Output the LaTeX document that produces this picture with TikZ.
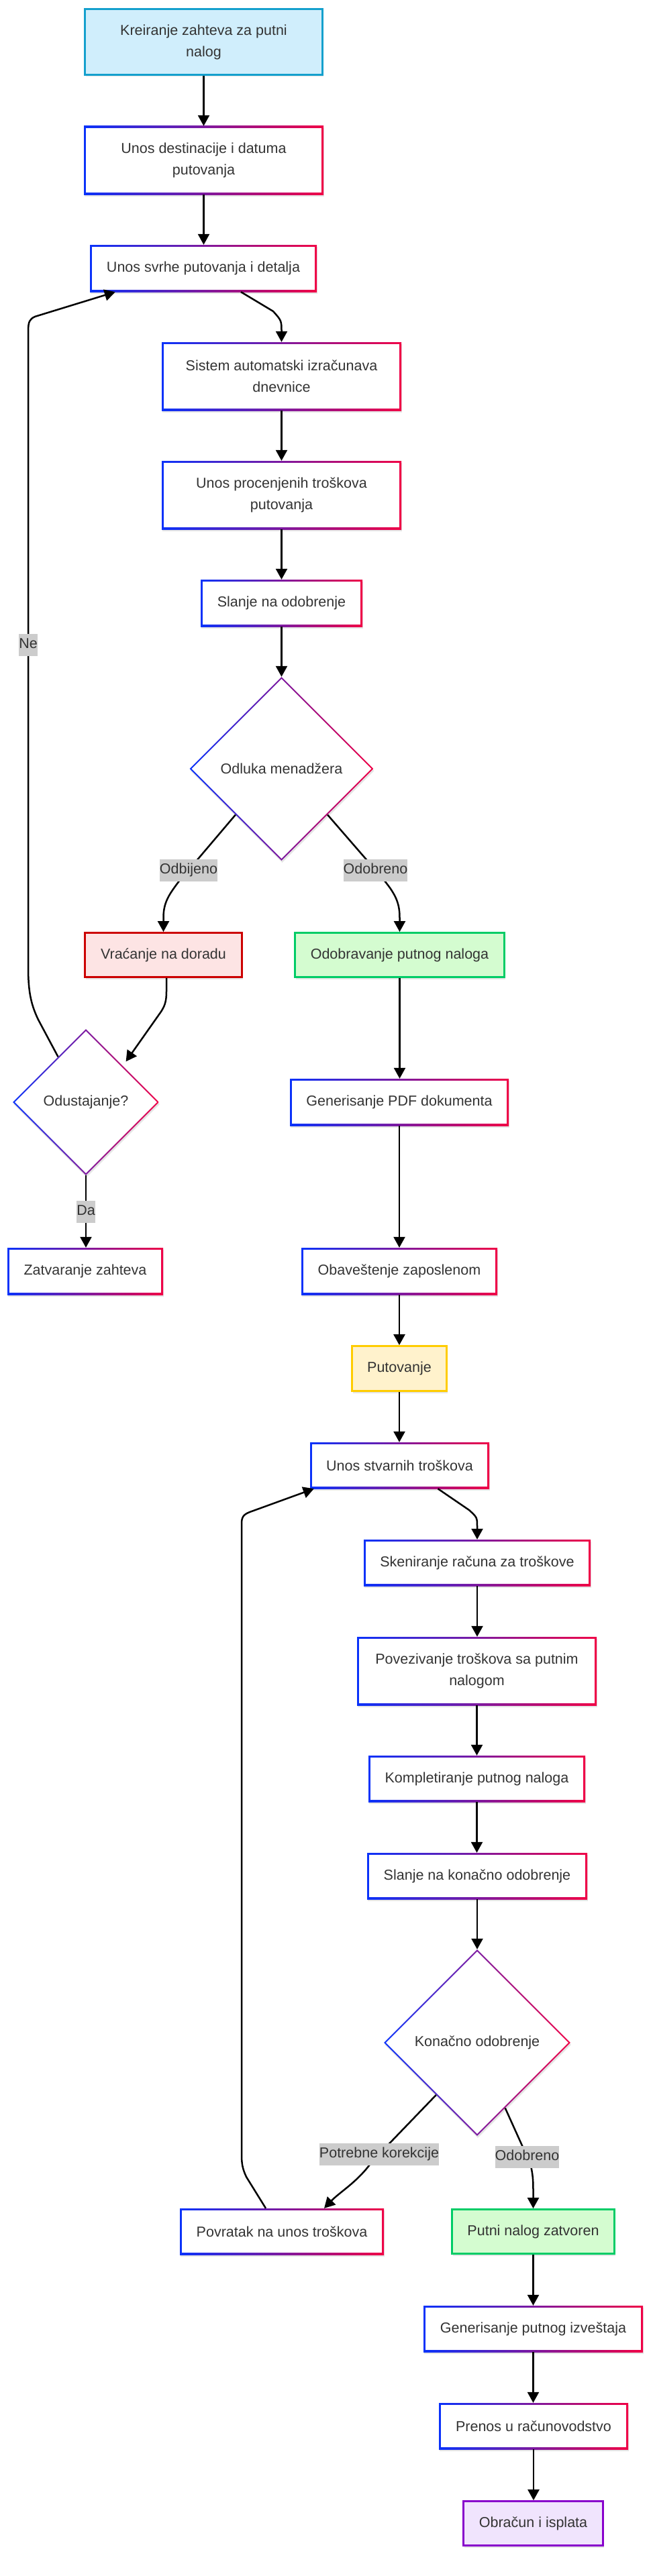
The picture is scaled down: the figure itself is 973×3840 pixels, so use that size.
\documentclass[tikz,border=0pt]{standalone}
\usepackage{fontspec}
\setmainfont{Liberation Sans}
\usetikzlibrary{shapes.geometric,arrows.meta,calc,shadows}
\definecolor{gleft}{RGB}{10,50,250}
\definecolor{gright}{RGB}{240,0,70}
\definecolor{txt}{RGB}{51,51,51}
\definecolor{labgray}{RGB}{204,204,204}
\definecolor{startfill}{RGB}{208,238,252}
\definecolor{startdraw}{RGB}{20,160,205}
\definecolor{redfill}{RGB}{253,228,228}
\definecolor{reddraw}{RGB}{204,0,0}
\definecolor{greenfill}{RGB}{212,252,208}
\definecolor{greendraw}{RGB}{0,204,102}
\definecolor{yelfill}{RGB}{255,242,204}
\definecolor{yeldraw}{RGB}{255,204,0}
\definecolor{purfill}{RGB}{240,228,253}
\definecolor{purdraw}{RGB}{136,0,204}
\newcommand{\mynodefont}{\fontsize{21.5pt}{32pt}\selectfont}
\tikzset{
  basenode/.style={inner sep=0pt, align=center, font=\mynodefont, text=txt,
    general shadow={fill=black, opacity=0.10, shadow xshift=1pt, shadow yshift=-3pt}},
  gbox/.style={basenode, rectangle,
    path picture={
      \shade[left color=gleft, right color=gright] (path picture bounding box.south west) rectangle (path picture bounding box.north east);
      \fill[white] ([shift={(2.8pt,2.8pt)}]path picture bounding box.south west) rectangle ([shift={(-2.8pt,-2.8pt)}]path picture bounding box.north east);
    }},
  gdia/.style={basenode, diamond, aspect=1,
    path picture={
      \shade[left color=gleft, right color=gright] (path picture bounding box.south west) rectangle (path picture bounding box.north east);
      \fill[white] ([yshift=-3pt]path picture bounding box.north) -- ([xshift=-3pt]path picture bounding box.east) -- ([yshift=3pt]path picture bounding box.south) -- ([xshift=3pt]path picture bounding box.west) -- cycle;
    }},
  cbox/.style={basenode, rectangle, line width=2.8pt},
  ed/.style={line width=2.5pt, line join=round, -{Triangle[length=16pt,width=17pt]}},
  lab/.style={fill=labgray, inner xsep=0pt, inner ysep=0pt, minimum height=33pt,
    text height=16pt, text depth=5pt, font=\mynodefont, text=txt},
}
\begin{document}
\begin{tikzpicture}[x=1pt,y=-1pt]
\path[fill=white, use as bounding box] (0,0) rectangle (973,3840);

% nodes
\node[cbox, fill=startfill, draw=startdraw, minimum width=354pt, minimum height=98pt] (A) at (303.5,62.5) {Kreiranje zahteva za putni\\nalog};
\node[gbox, minimum width=357pt, minimum height=102pt] (B) at (303.5,239) {Unos destinacije i datuma\\putovanja};
\node[gbox, minimum width=338pt, minimum height=70pt] (C) at (303,400) {Unos svrhe putovanja i detalja};
\node[gbox, minimum width=357pt, minimum height=102pt] (D) at (419.5,561) {Sistem automatski izračunava\\dnevnice};
\node[gbox, minimum width=357pt, minimum height=102pt] (E) at (419.5,738) {Unos procenjenih troškova\\putovanja};
\node[gbox, minimum width=241pt, minimum height=70pt] (F) at (419.5,899) {Slanje na odobrenje};
\node[gdia, minimum width=274pt, minimum height=274pt] (G) at (419.5,1146) {Odluka menadžera};
\node[cbox, fill=redfill, draw=reddraw, minimum width=234pt, minimum height=66pt] (H) at (243.5,1423.5) {Vraćanje na doradu};
\node[cbox, fill=greenfill, draw=greendraw, minimum width=312pt, minimum height=66pt] (I) at (595.5,1423.5) {Odobravanje putnog naloga};
\node[gdia, minimum width=218pt, minimum height=218pt] (O) at (128,1643) {Odustajanje?};
\node[gbox, minimum width=232pt, minimum height=70pt] (Z) at (127,1895) {Zatvaranje zahteva};
\node[gbox, minimum width=326pt, minimum height=70pt] (P) at (595,1643) {Generisanje PDF dokumenta};
\node[gbox, minimum width=292pt, minimum height=70pt] (N) at (595,1895) {Obaveštenje zaposlenom};
\node[cbox, fill=yelfill, draw=yeldraw, minimum width=141pt, minimum height=67pt] (T) at (595,2040) {Putovanje};
\node[gbox, minimum width=267pt, minimum height=69pt] (U) at (595.5,2184.5) {Unos stvarnih troškova};
\node[gbox, minimum width=338pt, minimum height=69pt] (S) at (711,2329.5) {Skeniranje računa za troškove};
\node[gbox, minimum width=357pt, minimum height=102pt] (V) at (710.5,2491) {Povezivanje troškova sa putnim\\nalogom};
\node[gbox, minimum width=323pt, minimum height=69pt] (K1) at (710.5,2651.5) {Kompletiranje putnog naloga};
\node[gbox, minimum width=328pt, minimum height=69pt] (L) at (711,2796.5) {Slanje na konačno odobrenje};
\node[gdia, minimum width=278pt, minimum height=278pt] (K) at (711,3045) {Konačno odobrenje};
\node[gbox, minimum width=304pt, minimum height=69pt] (R) at (420,3326.5) {Povratak na unos troškova};
\node[cbox, fill=greenfill, draw=greendraw, minimum width=242pt, minimum height=66pt] (X) at (794.5,3326.5) {Putni nalog zatvoren};
\node[gbox, minimum width=327pt, minimum height=69pt] (Y) at (794.5,3471.5) {Generisanje putnog izveštaja};
\node[gbox, minimum width=282pt, minimum height=69pt] (W) at (795,3616.5) {Prenos u računovodstvo};
\node[cbox, fill=purfill, draw=purdraw, minimum width=208pt, minimum height=66pt] (Q) at (794.5,3761.5) {Obračun i isplata};

% edges
\draw[ed] (A.south) -- (A.south |- B.north);
\draw[ed] (B.south) -- (B.south |- C.north);
\draw[ed] ([xshift=56pt]C.south) -- (407,464) .. controls (419.5,478) .. (419.5,495) -- (D.north);
\draw[ed] (D.south) -- (E.north);
\draw[ed] (E.south) -- (F.north);
\draw[ed] (F.south) -- (G.north);
\draw[ed] ($(G.west)!0.5!(G.south)$) -- (281,1297) node[lab] (l1) {Odbijeno} -- (268,1312) .. controls (252,1333) and (243.5,1345) .. (243.5,1368) -- (H.north);
\draw[ed] ($(G.south)!0.5!(G.east)$) -- (559.5,1297) node[lab] (l2) {Odobreno} -- (573,1313) .. controls (590,1334) and (595.5,1347) .. (595.5,1368) -- (I.north);
\draw[ed] ([xshift=4.5pt]H.south) -- (248,1478) .. controls (248,1494) and (245,1500) .. (240,1508) -- ($(O.north)!0.5!(O.east)+(5pt,6pt)$);
\draw[ed] (O.south) -- node[lab] (l5) {Da} (O.south |- Z.north);
\draw[ed] ($(O.north)!0.38!(O.west)$) -- (57,1520) .. controls (45,1495) and (42,1475) .. (42,1440) -- (42,961) node[lab] (l6) {Ne} -- (42,495) .. controls (42,479) and (44,476) .. (52,472) -- ([xshift=38pt]C.south west);
\draw[ed] (I.south) -- (I.south |- P.north);
\draw[ed] (P.south) -- (P.south |- N.north);
\draw[ed] (N.south) -- (N.south |- T.north);
\draw[ed] (T.south) -- (T.south |- U.north);
\draw[ed] ([xshift=57pt]U.south) -- (699,2251) .. controls (711,2262) .. (711,2276) -- (S.north);
\draw[ed] (S.south) -- (S.south |- V.north);
\draw[ed] (V.south) -- (V.south |- K1.north);
\draw[ed] (K1.south) -- (K1.south |- L.north);
\draw[ed] (L.south) -- (L.south |- K.north);
\draw[ed] ($(K.west)!0.56!(K.south)$) -- (565,3211) node[lab] (l3) {Potrebne korekcije} -- (550,3228) .. controls (530,3254) and (506,3268) .. ([xshift=63pt]R.north);
\draw[ed] ($(K.south)!0.3!(K.east)$) -- (785.5,3215) node[lab] (l4) {Odobreno} -- (791.5,3231) .. controls (794.5,3245) and (794.5,3255) .. (794.5,3268) -- (X.north);
\draw[ed] (X.south) -- (X.south |- Y.north);
\draw[ed] (Y.south) -- (Y.south |- W.north);
\draw[ed] (W.south) -- (W.south |- Q.north);
\draw[ed] ([xshift=-24pt]R.north) -- (367,3245) .. controls (361,3232) and (360,3225) .. (360,3210) -- (360,2272) .. controls (360,2262) and (362,2258) .. (372,2254) -- ([xshift=6pt]U.south west);
\end{tikzpicture}
\end{document}
